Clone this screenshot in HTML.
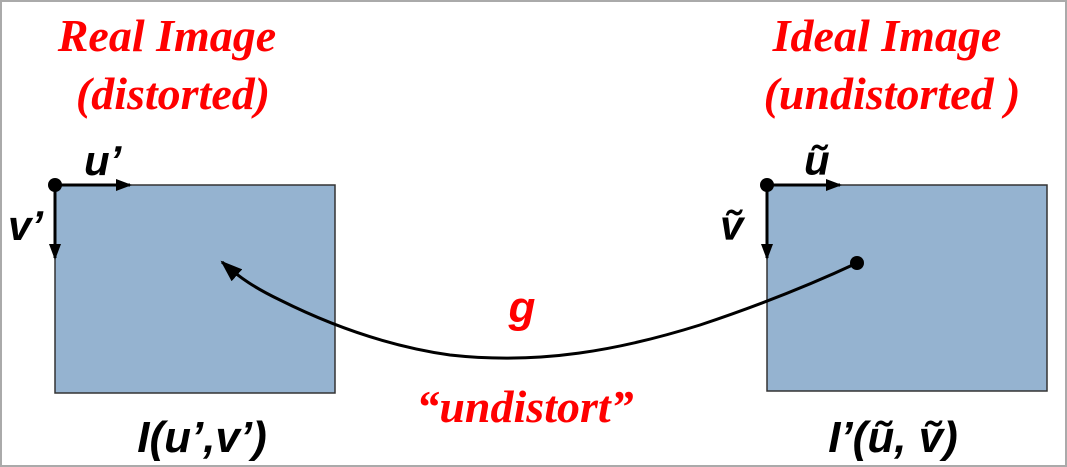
<!DOCTYPE html>
<html><head><meta charset="utf-8"><style>
html,body{margin:0;padding:0;background:#fff;}
svg{display:block;}
.red{fill:#ff0000;font-family:"Liberation Serif",serif;font-style:italic;font-weight:bold;}
.lbl{fill:#000;font-family:"Liberation Sans",sans-serif;font-style:italic;font-weight:bold;}
</style></head><body>
<svg width="1067" height="467" viewBox="0 0 1067 467">
<defs>
<marker id="ah" markerWidth="16" markerHeight="12" refX="14" refY="6" orient="auto" markerUnits="userSpaceOnUse">
<path d="M0,0 L16,6 L0,12 Z" fill="#000"/></marker>
<marker id="ah2" markerWidth="22" markerHeight="16" refX="20" refY="8" orient="auto" markerUnits="userSpaceOnUse">
<path d="M0,0 L22,8 L0,16 Z" fill="#000"/></marker>
</defs>
<rect x="1" y="1" width="1065" height="465" fill="#fff" stroke="#aaa" stroke-width="2"/>
<text class="red" x="167" y="51" font-size="46" text-anchor="middle">Real Image</text>
<text class="red" x="173" y="109" font-size="46" text-anchor="middle">(distorted)</text>
<text class="red" x="887" y="51" font-size="46" text-anchor="middle">Ideal Image</text>
<text class="red" x="892" y="109" font-size="46" text-anchor="middle">(undistorted )</text>
<rect x="55" y="185" width="280" height="208" fill="#95b3d0" stroke="#333" stroke-width="1.5"/>
<rect x="767" y="185" width="280" height="206" fill="#95b3d0" stroke="#333" stroke-width="1.5"/>
<line x1="55" y1="185" x2="130" y2="185" stroke="#000" stroke-width="3" marker-end="url(#ah)"/>
<line x1="55" y1="185" x2="55" y2="258" stroke="#000" stroke-width="3" marker-end="url(#ah)"/>
<circle cx="55" cy="185" r="7" fill="#000"/>
<text class="lbl" x="84" y="175" font-size="42">u’</text>
<text class="lbl" x="8" y="240" font-size="42">v’</text>
<line x1="767" y1="185" x2="840" y2="185" stroke="#000" stroke-width="3" marker-end="url(#ah)"/>
<line x1="767" y1="185" x2="767" y2="258" stroke="#000" stroke-width="3" marker-end="url(#ah)"/>
<circle cx="767" cy="185" r="7" fill="#000"/>
<text class="lbl" x="804" y="175" font-size="42">ũ</text>
<text class="lbl" x="720" y="240" font-size="42">ṽ</text>
<path d="M857,263 C810,285 760,305 700,325 C620,350 540,365 450,355 C380,345 320,320 280,300 C255,288 240,278 222,262" fill="none" stroke="#000" stroke-width="3" marker-end="url(#ah2)"/>
<circle cx="857" cy="263" r="7" fill="#000"/>
<text class="red" x="522" y="322" font-size="44" text-anchor="middle" style="font-family:'Liberation Sans',sans-serif">g</text>
<text class="red" x="525" y="422" font-size="46" text-anchor="middle">“undistort”</text>
<text class="lbl" x="202" y="452" font-size="44" text-anchor="middle">I(u’,v’)</text>
<text class="lbl" x="893" y="452" font-size="44" text-anchor="middle">I’(ũ, ṽ)</text>
</svg>
</body></html>
